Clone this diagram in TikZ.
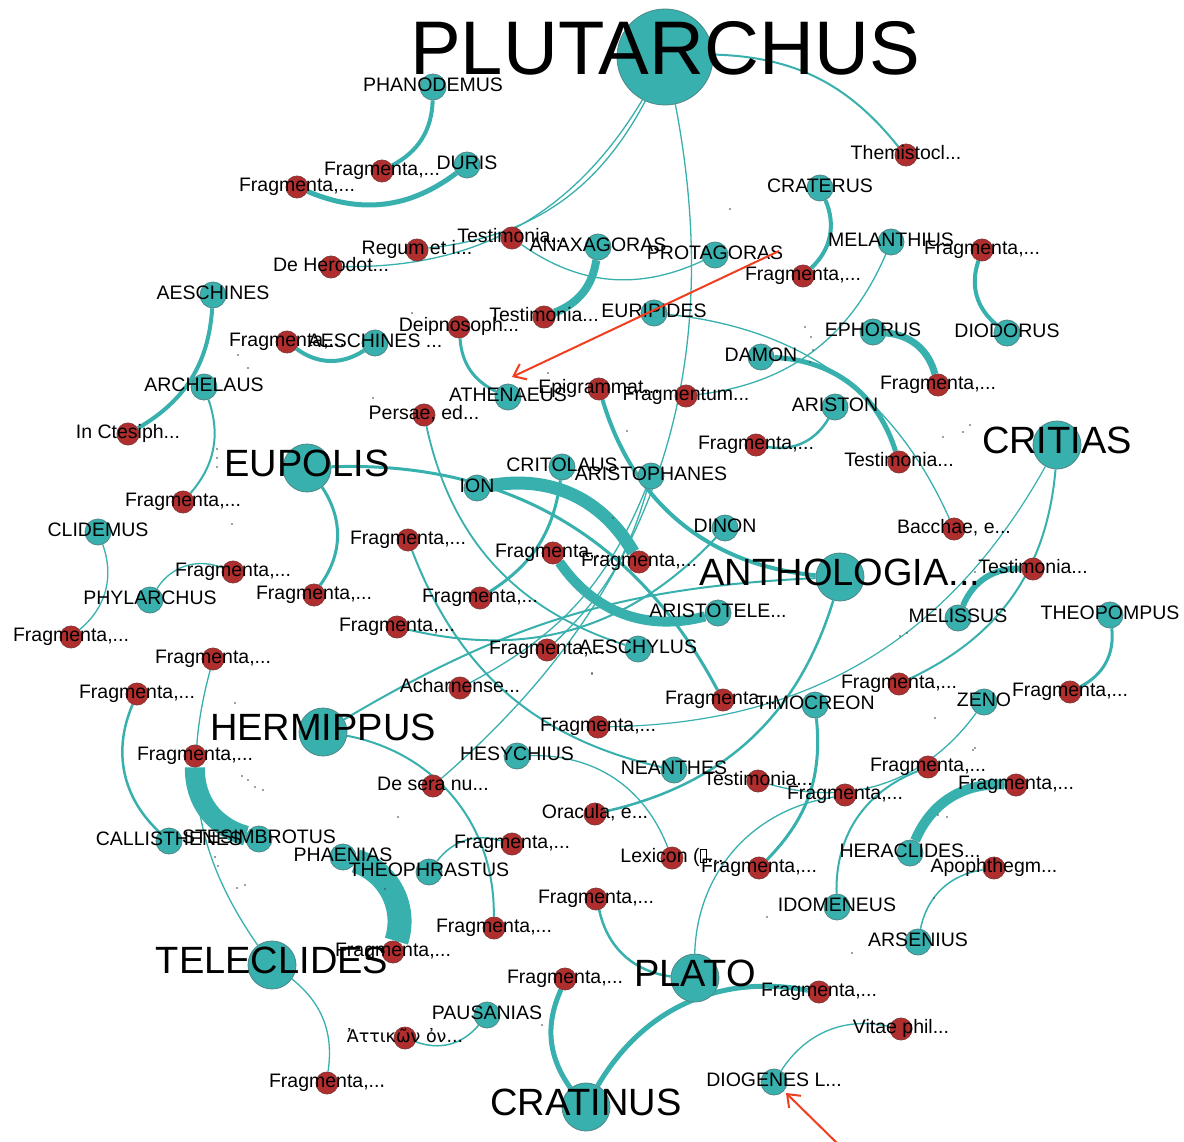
\documentclass[tikz,border=0pt]{standalone}
\usepackage{fontspec}
\setmainfont{Liberation Sans}
\newfontfamily\grkfont{DejaVu Sans}
\usetikzlibrary{arrows.meta}
\pgfdeclarelayer{paper}
\pgfdeclarelayer{edges}
\pgfdeclarelayer{labels}
\pgfsetlayers{paper,edges,main,labels}

\definecolor{tealn}{RGB}{56,176,174}
\definecolor{tealrim}{RGB}{78,135,135}
\definecolor{redn}{RGB}{176,46,46}
\definecolor{redrim}{RGB}{135,55,55}
\definecolor{annotred}{RGB}{240,62,32}

\tikzset{
  tn/.style={circle, fill=tealn, draw=tealrim, line width=0.8pt, inner sep=0pt},
  rn/.style={circle, fill=redn, draw=redrim, line width=0.8pt, inner sep=0pt},
  lbl/.style={inner sep=0pt, text=black},
  edge/.style={draw=tealn},
  cw/.style={bend left=#1},
  annot/.style={draw=annotred, line width=2pt, -{Straight Barb[length=11pt,width=17pt]}}
}

% circle node plus its label centred on it
\newcommand{\graphnode}[7]{%
  \node[#1, minimum size=#5*2pt] (#2) at (#3,#4) {};
  \begin{pgfonlayer}{labels}
    \node[lbl, anchor=base, font=\fontsize{#6pt}{#6pt}\selectfont] (#2-l) at (#3,#4+0.23*#6) {#7};
  \end{pgfonlayer}}
\newcommand{\worknode}[4]{\graphnode{rn}{#1}{#2}{#3}{11}{19.5}{#4}}
\newcommand{\authnode}[4]{\graphnode{tn}{#1}{#2}{#3}{13}{19.5}{#4}}
\newcommand{\majornode}[4]{\graphnode{tn}{#1}{#2}{#3}{24}{38}{#4}}

\begin{document}
\begin{tikzpicture}[x=1pt,y=-1pt]
\begin{pgfonlayer}{paper}
\fill[white] (0,0) rectangle (1184,1142);
\end{pgfonlayer}
\useasboundingbox (0,0) rectangle (1184,1142);

% ---------- authors ----------
\graphnode{tn}{plut}{665}{57}{48}{76}{PLUTARCHUS}
\majornode{eupolis}{307}{468}{EUPOLIS}
\majornode{critias}{1057}{445}{CRITIAS}
\majornode{antho}{840}{577}{ANTHOLOGIA...}
\majornode{hermipp}{323}{732}{HERMIPPUS}
\majornode{telecl}{272}{965}{TELECLIDES}
\majornode{plato}{695}{978}{PLATO}
\majornode{cratin}{586}{1107}{CRATINUS}

\authnode{phan}{433}{87}{PHANODEMUS}
\authnode{duris}{467}{165}{DURIS}
\authnode{aeschA}{213}{295}{AESCHINES}
\authnode{aeschB}{375}{343}{AESCHINES ...}
\authnode{archel}{204}{387}{ARCHELAUS}
\authnode{anax}{598}{247}{ANAXAGORAS}
\authnode{prot}{715}{255}{PROTAGORAS}
\authnode{eurip}{654}{313}{EURIPIDES}
\authnode{damon}{761}{357}{DAMON}
\authnode{crater}{820}{188}{CRATERUS}
\authnode{melanth}{891}{242}{MELANTHIUS}
\authnode{ephor}{873}{332}{EPHORUS}
\authnode{diod}{1007}{333}{DIODORUS}
\authnode{athen}{508}{397}{ATHENAEUS}
\authnode{ariston}{835}{407}{ARISTON}
\authnode{critol}{562}{467}{CRITOLAUS}
\authnode{aristoph}{651}{476}{ARISTOPHANES}
\authnode{ion}{477}{488}{ION}
\authnode{dinon}{725}{528}{DINON}
\authnode{clidem}{98}{532}{CLIDEMUS}
\authnode{phylar}{150}{600}{PHYLARCHUS}
\authnode{aristot}{718}{613}{ARISTOTELE...}
\authnode{aeschyl}{638}{649}{AESCHYLUS}
\authnode{meliss}{958}{618}{MELISSUS}
\authnode{theopomp}{1110}{615}{THEOPOMPUS}
\authnode{zeno}{984}{702}{ZENO}
\authnode{timocr}{815}{705}{TIMOCREON}
\authnode{hesych}{517}{756}{HESYCHIUS}
\authnode{neanth}{674}{770}{NEANTHES}
\authnode{callis}{169}{841}{CALLISTHENES}
\authnode{stesim}{259}{839}{STESIMBROTUS}
\authnode{phaen}{343}{857}{PHAENIAS}
\authnode{theophr}{429}{872}{THEOPHRASTUS}
\authnode{heracl}{910}{853}{HERACLIDES...}
\authnode{idomen}{837}{907}{IDOMENEUS}
\authnode{arsen}{918}{942}{ARSENIUS}
\authnode{pausan}{487}{1015}{PAUSANIAS}
\authnode{diog}{774}{1082}{DIOGENES L...}

% ---------- works ----------
\worknode{f01}{297}{187}{Fragmenta,...}
\worknode{f02}{382}{171}{Fragmenta,...}
\worknode{regum}{417}{250}{Regum et i...}
\worknode{testA}{512}{238}{Testimonia...}
\worknode{deher}{331}{267}{De Herodot...}
\worknode{testB}{544}{317}{Testimonia...}
\worknode{deipn}{459}{327}{Deipnosoph...}
\worknode{f03}{287}{342}{Fragmenta,...}
\worknode{ctes}{128}{434}{In Ctesiph...}
\worknode{themis}{906}{155}{Themistocl...}
\worknode{f04}{803}{276}{Fragmenta,...}
\worknode{f05}{982}{250}{Fragmenta,...}
\worknode{fragm}{686}{396}{Fragmentum...}
\worknode{f06}{938}{385}{Fragmenta,...}
\worknode{epigr}{599}{389}{Epigrammat...}
\worknode{persae}{424}{415}{Persae, ed...}
\worknode{f07}{756}{445}{Fragmenta,...}
\worknode{testC}{899}{462}{Testimonia...}
\worknode{bacch}{954}{529}{Bacchae, e...}
\worknode{f08}{183}{502}{Fragmenta,...}
\worknode{f09}{408}{540}{Fragmenta,...}
\worknode{f10}{553}{553}{Fragmenta,...}
\worknode{f11}{639}{562}{Fragmenta,...}
\worknode{testD}{1033}{569}{Testimonia...}
\worknode{f12}{233}{572}{Fragmenta,...}
\worknode{f13}{314}{595}{Fragmenta,...}
\worknode{f14}{480}{598}{Fragmenta,...}
\worknode{f15}{71}{637}{Fragmenta,...}
\worknode{f16}{397}{627}{Fragmenta,...}
\worknode{f17}{547}{650}{Fragmenta,...}
\worknode{f18}{213}{659}{Fragmenta,...}
\worknode{f19}{137}{694}{Fragmenta,...}
\worknode{achar}{460}{688}{Acharnense...}
\worknode{f20}{723}{700}{Fragmenta,...}
\worknode{f21}{598}{727}{Fragmenta,...}
\worknode{f22}{899}{684}{Fragmenta,...}
\worknode{f23}{1070}{692}{Fragmenta,...}
\worknode{f24}{195}{756}{Fragmenta,...}
\worknode{desera}{433}{786}{De sera nu...}
\worknode{oracul}{595}{814}{Oracula, e...}
\worknode{testE}{758}{781}{Testimonia...}
\worknode{f25}{845}{795}{Fragmenta,...}
\worknode{f26}{928}{767}{Fragmenta,...}
\worknode{f27}{1016}{785}{Fragmenta,...}
\worknode{apoph}{994}{868}{Apophthegm...}
\worknode{lexic}{672}{858}{Lexicon ({\setlength{\fboxsep}{0pt}\setlength{\fboxrule}{0.9pt}\fbox{\rule{0pt}{13pt}\hspace{6pt}}}...}
\worknode{f28}{759}{868}{Fragmenta,...}
\worknode{f29}{512}{844}{Fragmenta,...}
\worknode{f30}{596}{899}{Fragmenta,...}
\worknode{f31}{494}{928}{Fragmenta,...}
\worknode{f32}{393}{952}{Fragmenta,...}
\worknode{f33}{565}{979}{Fragmenta,...}
\worknode{f34}{819}{992}{Fragmenta,...}
\worknode{attik}{405}{1038}{\fontsize{17.5pt}{18pt}\selectfont\grkfont Ἀττικῶν ὀν...}
\worknode{vitae}{901}{1029}{Vitae phil...}
\worknode{f35}{327}{1083}{Fragmenta,...}

% ---------- edges ----------
\begin{pgfonlayer}{edges}
\draw[edge, line width=2pt] (plut) to[cw=25] (themis);
\draw[edge, line width=1.3pt] (plut) to[cw=28] (regum);
\draw[edge, line width=1.3pt] (plut) to[cw=30] (deher);
\draw[edge, line width=1.3pt] (plut) to[cw=30] (desera);
\draw[edge, line width=1.3pt] (prot) to[cw=30] (testA);
\draw[edge, line width=8pt] (anax) to[cw=30] (testB);
\draw[edge, line width=3pt] (athen) to[cw=30] (deipn);
\draw[edge, line width=5pt] (duris) to[cw=30] (f01);
\draw[edge, line width=4pt] (phan) to[cw=30] (f02);
\draw[edge, line width=4pt] (aeschB) to[cw=35] (f03);
\draw[edge, line width=4pt] (aeschA) to[cw=28] (ctes);
\draw[edge, line width=2pt] (archel) to[cw=30] (f08);
\draw[edge, line width=4pt] (crater) to[cw=35] (f04);
\draw[edge, line width=4pt] (diod) to[cw=35] (f05);
\draw[edge, line width=1.3pt] (melanth) to[cw=30] (fragm);
\draw[edge, line width=7pt] (ephor) to[cw=35] (f06);
\draw[edge, line width=4pt] (antho) to[cw=34] (epigr);
\draw[edge, line width=1.8pt] (aeschyl) to[cw=30] (persae);
\draw[edge, line width=2.5pt] (ariston) to[cw=35] (f07);
\draw[edge, line width=5pt] (damon) to[cw=35] (testC);
\draw[edge, line width=1.3pt] (eurip) to[cw=30] (bacch);
\draw[edge, line width=2pt] (neanth) to[cw=28] (f09);
\draw[edge, line width=10pt] (aristot) to[cw=35] (f10);
\draw[edge, line width=13pt] (ion) to[cw=35] (f11);
\draw[edge, line width=6pt] (meliss) to[cw=35] (testD);
\draw[edge, line width=1.3pt] (phylar) to[cw=40] (f12);
\draw[edge, line width=3pt] (eupolis) to[cw=35] (f13);
\draw[edge, line width=3pt] (critol) to[cw=25] (f14);
\draw[edge, line width=1.3pt] (clidem) to[cw=35] (f15);
\draw[edge, line width=2pt] (dinon) to[cw=30] (f16);
\draw[edge, line width=1.3pt] (aristoph) to[cw=15] (f17);
\draw[edge, line width=1.3pt] (aristoph) to[cw=20] (achar);
\draw[edge, line width=2pt] (hermipp) to[cw=14] (antho);
\draw[edge, line width=1.3pt] (telecl) to[cw=25] (f18);
\draw[edge, line width=2.5pt] (callis) to[cw=35] (f19);
\draw[edge, line width=3pt] (eupolis) to[cw=32] (f20);
\draw[edge, line width=1.2pt] (critias) to[cw=30] (f21);
\draw[edge, line width=2pt] (critias) to[cw=30] (f22);
\draw[edge, line width=3pt] (theopomp) to[cw=35] (f23);
\draw[edge, line width=20pt] (stesim) to[cw=38] (f24);
\draw[edge, line width=2.5pt] (antho) to[cw=30] (oracul);
\draw[edge, line width=1.3pt] (zeno) to[cw=35] (testE);
\draw[edge, line width=1.3pt] (plato) to[cw=40] (f25);
\draw[edge, line width=2pt] (idomen) to[cw=35] (f26);
\draw[edge, line width=10pt] (heracl) to[cw=35] (f27);
\draw[edge, line width=1.5pt] (arsen) to[cw=35] (apoph);
\draw[edge, line width=1.3pt] (hesych) to[cw=35] (lexic);
\draw[edge, line width=3pt] (timocr) to[cw=25] (f28);
\draw[edge, line width=1.5pt] (theophr) to[cw=35] (f29);
\draw[edge, line width=2.5pt] (plato) to[cw=35] (f30);
\draw[edge, line width=2pt] (hermipp) to[cw=40] (f31);
\draw[edge, line width=24pt] (phaen) to[cw=45] (f32);
\draw[edge, line width=5pt] (cratin) to[cw=30] (f33);
\draw[edge, line width=5pt] (cratin) to[cw=35] (f34);
\draw[edge, line width=1.5pt] (pausan) to[cw=35] (attik);
\draw[edge, line width=1.3pt] (diog) to[cw=35] (vitae);
\draw[edge, line width=1.3pt] (telecl) to[cw=30] (f35);
\end{pgfonlayer}

% ---------- stray specks ----------
\foreach \p in {(730,209),(238,355),(248,368),(373,398),(217,449),(217,458),(217,467),
  (232,524),(412,313),(548,373),(627,431),(805,327),(811,337),(813,350),(810,362),
  (613,518),(592,673),(943,437),(963,432),(970,425),(975,572),(907,633),(900,636),
  (935,718),(975,748),(242,776),(248,780),(255,787),(263,790),(215,857),(218,866),
  (237,888),(245,885),(385,889),(398,817),(542,1025),(382,1085),(973,750),(938,815),
  (947,817),(934,898),(852,953),(235,703),(592,674),(767,917)}
  \fill[black!75] \p circle (0.9);

% ---------- annotation arrows ----------
\coordinate (arA) at (779,251);
\coordinate (arAend) at (512,377);
\coordinate (arB) at (840,1146);
\coordinate (arBend) at (786,1093);
\begin{pgfonlayer}{labels}
\draw[annot] (arA) -- (arAend);
\draw[annot] (arB) -- (arBend);
\end{pgfonlayer}
\end{tikzpicture}
\end{document}
